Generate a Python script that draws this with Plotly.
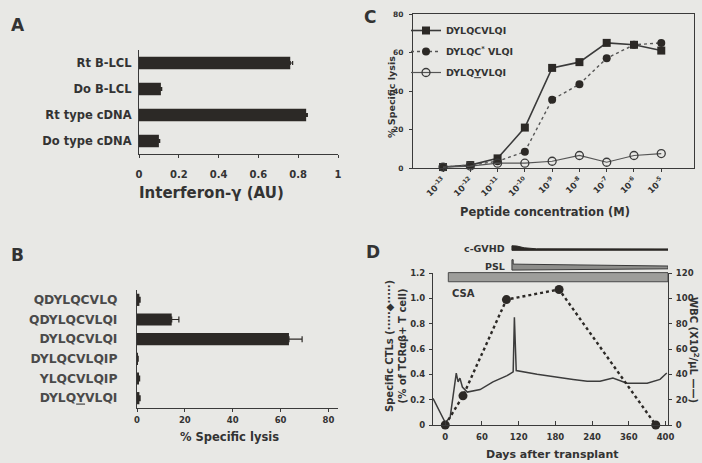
import plotly.graph_objects as go

# ---------------- data ----------------
# Panel A
a_categories = ["Rt B-LCL", "Do B-LCL", "Rt type cDNA", "Do type cDNA"]
a_values = [0.76, 0.11, 0.84, 0.10]
a_errors = [0.012, 0.004, 0.006, 0.004]
a_tickvals = [0, 0.2, 0.4, 0.6, 0.8, 1]
a_ticktext = ["0", "0.2", "0.4", "0.6", "0.8", "1"]

# Panel B
b_categories = ["QDYLQCVLQ", "QDYLQCVLQI", "DYLQCVLQI", "DYLQCVLQIP", "YLQCVLQIP", "DYLQ<u>Y</u>VLQI"]
b_values = [1.0, 14.5, 63.5, 0.3, 0.8, 1.0]
b_errors = [0.3, 3.0, 5.5, 0.2, 0.3, 0.3]
b_tickvals = [0, 20, 40, 60, 80]

# Panel C
c_conc_labels = ["10<sup>-13</sup>", "10<sup>-12</sup>", "10<sup>-11</sup>", "10<sup>-10</sup>",
                 "10<sup>-9</sup>", "10<sup>-8</sup>", "10<sup>-7</sup>", "10<sup>-6</sup>", "10<sup>-5</sup>"]
c_names = ["DYLQCVLQI", "DYLQC<sup>*</sup> VLQI", "DYLQ<u>Y</u>VLQI"]
c_dylqcvlqi = [0.5, 1.5, 5.0, 21, 52, 55, 65, 64, 61]
c_dylqc_star = [0.5, 1.5, 3.5, 8.5, 35.5, 43.5, 57, 64, 65]
c_dylqyvlqi = [0.5, 1.0, 2.5, 2.5, 3.5, 6.5, 3.0, 6.5, 7.5]
c_tickvals_y = [0, 20, 40, 60, 80]

# Panel D
d_tickvals = [0, 60, 120, 180, 240, 300, 360]
d_ticktext = ["0", "60", "120", "180", "240", "360", "400"]
ctl_days = [0, 29, 100, 186, 344]
ctl_values = [0, 0.23, 0.99, 1.07, 0]
wbc_days = [-20, -8, 0, 8, 18, 21, 24, 28, 36, 57, 78, 101, 108, 111, 113, 116,
            150, 176, 209, 232, 253, 274, 297, 330, 351, 362]
wbc_values = [21, 10, 2, 6, 41, 34, 37, 30, 26, 28, 34, 39, 41, 42, 85, 43,
              40, 38, 36, 34.5, 34.5, 37, 33, 33, 36, 41]
treatments = ["c-GVHD", "PSL", "CSA"]
treat_start = [109, 109, 5]
treat_end = [364, 364, 364]

# ---------------- style / layout helpers ----------------
W, H = 702, 463
BG = "#e8e8e5"
INK = "#2c2926"
TXT = "#333333"
FONT = "DejaVu Sans, Liberation Sans, Arial, sans-serif"


def fx(px):
    return px / W


def fy(py):
    return 1 - py / H


def tf(size, color=TXT):
    return dict(family=FONT, size=size, color=color, weight="bold")


fig = go.Figure()

# ---- A ----
fig.add_trace(go.Bar(
    x=a_values, y=a_categories, orientation="h", width=0.48,
    marker=dict(color=INK, line=dict(width=0)),
    error_x=dict(type="data", symmetric=False, array=a_errors,
                 arrayminus=[0] * len(a_errors), color=INK, thickness=1.2, width=2),
    xaxis="x", yaxis="y", showlegend=False))

# ---- B ----
fig.add_trace(go.Bar(
    x=b_values, y=b_categories, orientation="h", width=0.62,
    marker=dict(color=INK, line=dict(width=0)),
    error_x=dict(type="data", symmetric=False, array=b_errors,
                 arrayminus=[0] * len(b_errors), color=INK, thickness=1.2, width=3),
    xaxis="x2", yaxis="y2", showlegend=False))

# ---- C ----
c_idx = list(range(len(c_conc_labels)))
fig.add_trace(go.Scatter(
    x=c_idx, y=c_dylqcvlqi, name=c_names[0], legendgroup="g1", mode="lines+markers",
    line=dict(color="#3a3a3a", width=1.6),
    marker=dict(symbol="square", size=8, color=INK),
    xaxis="x3", yaxis="y3", cliponaxis=False))
fig.add_trace(go.Scatter(
    x=c_idx, y=c_dylqc_star, name=c_names[1], legendgroup="g2", mode="lines+markers",
    line=dict(color="#555555", width=1.4, dash="dot"),
    marker=dict(symbol="circle", size=8, color=INK),
    xaxis="x3", yaxis="y3", cliponaxis=False))
fig.add_trace(go.Scatter(
    x=c_idx, y=c_dylqyvlqi, name=c_names[2], legendgroup="g3", mode="lines+markers",
    line=dict(color="#555555", width=1.2),
    marker=dict(symbol="circle-open", size=8, color="#3a3a3a", line=dict(width=1.3)),
    xaxis="x3", yaxis="y3", cliponaxis=False))

# ---- D ----
fig.add_trace(go.Scatter(
    x=wbc_days, y=wbc_values, mode="lines",
    line=dict(color="#3c3c3c", width=1.5),
    xaxis="x4", yaxis="y4", showlegend=False))
fig.add_trace(go.Scatter(
    x=ctl_days, y=ctl_values, mode="lines+markers",
    line=dict(color=INK, width=2.4, dash="dot"),
    marker=dict(symbol="circle", size=9, color=INK),
    xaxis="x4", yaxis="y5", showlegend=False, cliponaxis=False))

# treatment bars (drawn on hidden axes that share D's day scale)
row_y = {"c-GVHD": 1.385, "PSL": 1.245, "CSA": 1.168}
for name, s, e in zip(treatments, treat_start, treat_end):
    y0 = row_y[name]
    if name == "c-GVHD":
        xs = [s, s, s + 8, s + 20, s + 40, e, e, s]
        ys = [y0 - 0.006, y0 + 0.03, y0 + 0.028, y0 + 0.014, y0 + 0.006, y0 + 0.005, y0 - 0.005, y0 - 0.006]
        fill, lc = INK, INK
    elif name == "PSL":
        xs = [s, s, s + 2, s + 2, e, e, s]
        ys = [y0 - 0.022, y0 + 0.06, y0 + 0.06, y0 + 0.025, y0 + 0.01, y0 - 0.012, y0 - 0.022]
        fill, lc = "#8d8d8a", "#3a3a3a"
    else:
        xs = [s, s, e, e, s]
        ys = [y0 - 0.037, y0 + 0.035, y0 + 0.035, y0 - 0.037, y0 - 0.037]
        fill, lc = "#9e9e9b", "#4a4a4a"
    fig.add_trace(go.Scatter(
        x=xs, y=ys, mode="lines", fill="toself", fillcolor=fill,
        line=dict(color=lc, width=1), xaxis="x6", yaxis="y6",
        showlegend=False, hoverinfo="skip", cliponaxis=False))

axis_common = dict(showgrid=False, zeroline=False, showline=True, linecolor="#3a3a3a",
                   linewidth=1.2, tickcolor="#3a3a3a", automargin=False)

fig.update_layout(
    width=W, height=H,
    margin=dict(l=0, r=0, t=0, b=0, autoexpand=False),
    paper_bgcolor=BG, plot_bgcolor="rgba(0,0,0,0)",
    font=dict(family=FONT, size=11, color=TXT, weight="bold"),
    showlegend=True,
    legend=dict(x=fx(406), y=fy(16), xanchor="left", yanchor="top",
                bgcolor="rgba(0,0,0,0)", font=tf(9.5), itemwidth=30,
                tracegroupgap=2),
    # A
    xaxis=dict(domain=[fx(139), fx(338)], range=[0, 1], anchor="y",
               tickvals=a_tickvals, ticktext=a_ticktext, ticks="outside", ticklen=3,
               tickfont=tf(10), ticklabelstandoff=8, **axis_common),
    yaxis=dict(domain=[fy(154), fy(50)], anchor="x", type="category",
               categoryorder="array", categoryarray=a_categories, autorange="reversed",
               ticks="", tickfont=tf(11.5), ticklabelstandoff=4, **axis_common),
    # B
    xaxis2=dict(domain=[fx(137), fx(338)], range=[0, 84], anchor="y2",
                tickvals=b_tickvals, ticks="outside", ticklen=3,
                tickfont=tf(8.5), ticklabelstandoff=1, **axis_common),
    yaxis2=dict(domain=[fy(408), fy(290)], anchor="x2", type="category",
                categoryorder="array", categoryarray=b_categories, autorange="reversed",
                ticks="", tickfont=tf(12.3, "#4a4a4a"),
                ticklabelstandoff=16, **axis_common),
    # C
    xaxis3=dict(domain=[fx(413), fx(694)], range=[-1.1, 9.2], anchor="y3",
                tickvals=c_idx, ticktext=c_conc_labels, tickangle=-45,
                ticks="outside", ticklen=3, tickfont=tf(8.5), mirror=True, **axis_common),
    yaxis3=dict(domain=[fy(168), fy(14)], range=[0, 80], anchor="x3",
                tickvals=c_tickvals_y, ticks="outside", ticklen=3,
                tickfont=tf(7.5), ticklabelstandoff=4, mirror=True, **axis_common),
    # D
    xaxis4=dict(domain=[fx(433), fx(668)], range=[-20, 364], anchor="y4",
                tickvals=d_tickvals, ticktext=d_ticktext, ticks="inside", ticklen=4,
                tickfont=tf(8.5), ticklabelstandoff=4, **axis_common),
    yaxis4=dict(domain=[fy(425), fy(273)], range=[0, 120], anchor="x4", side="right",
                dtick=20, ticks="outside", ticklen=3, tickfont=tf(8.5),
                ticklabelstandoff=2, **axis_common),
    yaxis5=dict(range=[0, 1.2], anchor="x4", overlaying="y4", side="left",
                tickvals=[0, 0.2, 0.4, 0.6, 0.8, 1.0, 1.2],
                ticktext=["0", "0.2", "0.4", "0.6", "0.8", "1.0", "1.2"],
                ticks="outside", ticklen=3, tickfont=tf(8.5), ticklabelstandoff=2,
                **axis_common),
    xaxis6=dict(domain=[fx(433), fx(668)], range=[-20, 364], anchor="y6", visible=False,
                showgrid=False, zeroline=False, automargin=False),
    yaxis6=dict(domain=[fy(425), fy(240)], range=[0, (425 - 240) / (152 / 1.2)],
                anchor="x6", visible=False, showgrid=False, zeroline=False, automargin=False),
)


def ann(text, px, py, size=11, angle=0, xanchor="center", color=TXT):
    fig.add_annotation(text=text, x=fx(px), y=fy(py), xref="paper", yref="paper",
                       showarrow=False, textangle=angle, xanchor=xanchor, yanchor="middle",
                       font=dict(family=FONT, size=size, color=color, weight="bold"))


ann("A", 18, 25, size=17)
ann("B", 17, 255, size=17)
ann("C", 370, 17, size=17)
ann("D", 373, 252, size=17)
ann("Interferon-γ (AU)", 211, 193, size=15)
ann("% Specific lysis", 229, 437, size=11.5)
ann("Peptide concentration (M)", 545, 212, size=11.5)
ann("% Specific lysis", 391, 97, size=9.5, angle=-90)
ann("Days after transplant", 552, 454, size=11)
ann("Specific CTLs (·····◆·····)<br>(% of TCRαβ+ T cell)", 396, 346, size=10, angle=-90)
ann("WBC (X10<sup>2</sup>/μL ——)", 694, 350, size=10, angle=90)
ann("c-GVHD", 507, 249, size=9.5, xanchor="right")
ann("PSL", 507, 266, size=9.5, xanchor="right")
ann("CSA", 463, 293, size=10)

fig.write_html(
    "out.html",
    config={"displayModeBar": False},
    post_script="document.body.style.margin='0px';document.body.style.overflow='hidden';",
)
